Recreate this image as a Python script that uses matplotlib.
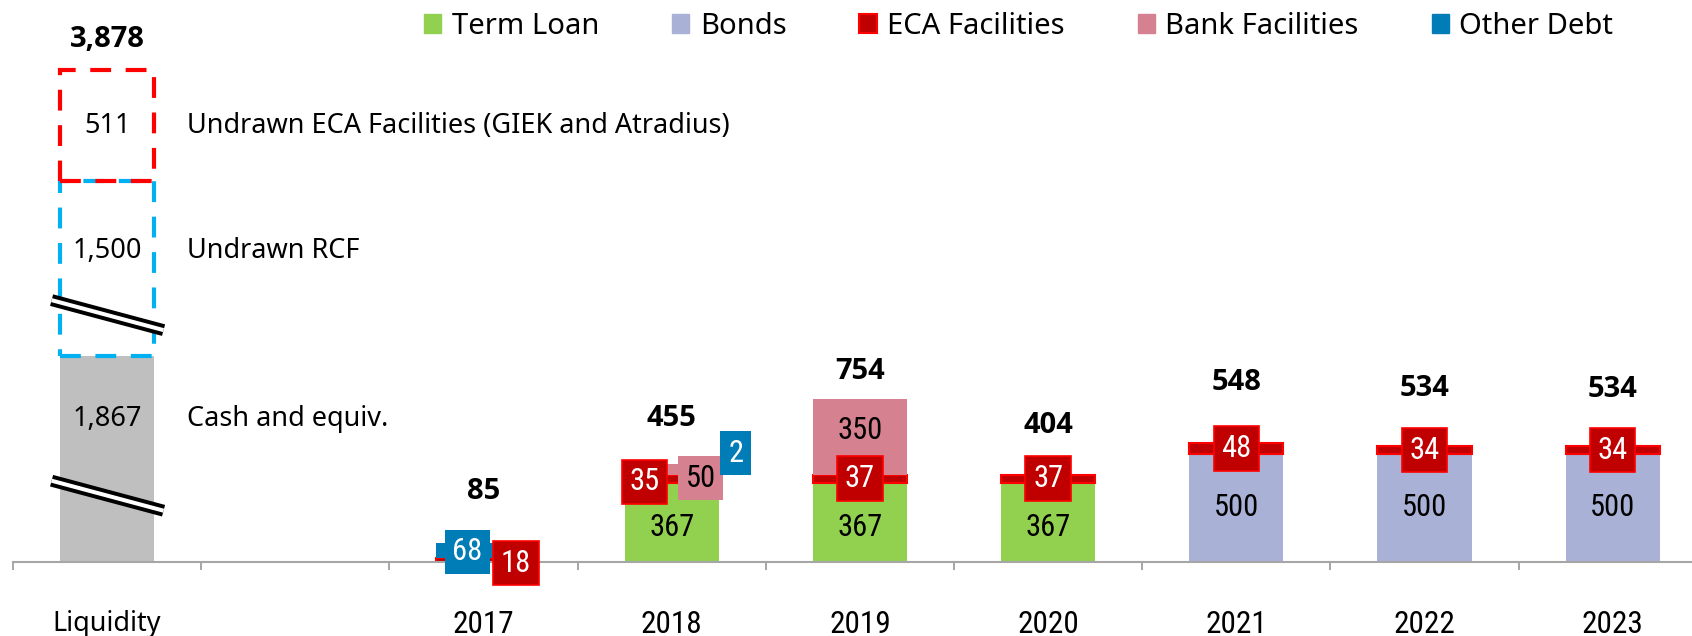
import matplotlib
matplotlib.use("Agg")
import matplotlib.pyplot as plt
from matplotlib.patches import Patch
from matplotlib import font_manager
import numpy as np

# ---------------- data ----------------
categories = ["Liquidity", "", "2017", "2018", "2019", "2020", "2021", "2022", "2023"]
years = ["2017", "2018", "2019", "2020", "2021", "2022", "2023"]
term_loan = [0, 367, 367, 367, 0, 0, 0]
bonds = [0, 0, 0, 0, 500, 500, 500]
eca_facilities = [18, 35, 37, 37, 48, 34, 34]
bank_facilities = [0, 50, 350, 0, 0, 0, 0]
other_debt = [68, 2, 0, 0, 0, 0, 0]
year_totals = [85, 455, 754, 404, 548, 534, 534]

liquidity_names = ["Cash and equiv.", "Undrawn RCF",
                   "Undrawn ECA Facilities (GIEK and Atradius)"]
liquidity_values = [1867, 1500, 511]
liquidity_break_cut = [916, 691, 0]      # amount hidden by the axis breaks
liquidity_total = 3878

# ---------------- style ----------------
C_TERM = "#92D050"
C_BONDS = "#A9B2D6"
C_ECA = "#C00000"
C_ECA_EDGE = "#FF0000"
C_BANK = "#D5818F"
C_OTHER = "#007DB6"
C_CASH = "#BFBFBF"
C_RCF = "#00B0F0"
C_AXIS = "#A6A6A6"

flist = font_manager.fontManager.ttflist
avail = {f.name for f in flist}
def pick(*names):
    return [n for n in names if n in avail] + ["DejaVu Sans"]
def has_bold(name):
    for f in flist:
        if f.name == name and f.style == "normal":
            w = f.weight
            if isinstance(w, str):
                if w in ("bold", "heavy", "extra bold", "black", "semibold", "demibold"):
                    return True
            elif w >= 600:
                return True
    return False
NARROW = pick("Liberation Sans Narrow", "Roboto Condensed", "Roboto")
MAIN = pick("Noto Sans", "Open Sans")
BOLD = [n for n in ("Noto Sans", "Open Sans", "Lato", "Roboto") if n in avail and has_bold(n)] + ["DejaVu Sans"]

W, H, DPI = 1692, 636, 100
PX = 72.0 / DPI   # points per pixel

fig = plt.figure(figsize=(W / DPI, H / DPI), dpi=DPI)
left_px, base_px, cat_px, unit_px = 13, 562, 188.2, 0.2165
ax = fig.add_axes([left_px / W, (H - base_px) / H, 1 - left_px / W, base_px / H])
for s in ["left", "right", "top"]:
    ax.spines[s].set_visible(False)
ax.spines["bottom"].set_color(C_AXIS)
ax.spines["bottom"].set_linewidth(1.5)
ax.set_yticks([])
ax.patch.set_alpha(0)

BW = 0.5
xs = np.arange(2, 2 + len(years))

series = [
    ("Term Loan", term_loan, C_TERM, None, "black"),
    ("Bonds", bonds, C_BONDS, None, "black"),
    ("ECA Facilities", eca_facilities, C_ECA, C_ECA_EDGE, "white"),
    ("Bank Facilities", bank_facilities, C_BANK, None, "black"),
    ("Other Debt", other_debt, C_OTHER, None, "white"),
]

# label offsets in pixels (dx right, dy up) to avoid overlaps
label_shift = {
    ("ECA Facilities", "2017"): (32.5, -3),
    ("Other Debt", "2017"): (-16, -1),
    ("ECA Facilities", "2018"): (-27, -3),
    ("Bank Facilities", "2018"): (29, -8.5),
    ("Other Debt", "2018"): (64, 10.7),
}
plain_shift = {"Term Loan": -5, "Bonds": 0, "Bank Facilities": 6}

bottom = np.zeros(len(years))
for name, vals, fc, ec, tc in series:
    vals = np.array(vals, dtype=float)
    mask = vals > 0
    ax.bar(xs[mask], vals[mask], BW, bottom=bottom[mask], color=fc,
           edgecolor=ec if ec else fc, linewidth=1.5 if ec else 0, zorder=2)
    for x, v, b, yr in zip(xs, vals, bottom, years):
        if v <= 0:
            continue
        yc = b + v / 2
        boxed = v < 190
        if boxed:
            dx, dy = label_shift.get((name, yr), (0, 0))
            ax.annotate(f"{int(v)}", xy=(x, yc), xytext=(dx * PX, dy * PX),
                        textcoords="offset points", ha="center", va="center",
                        color=tc, fontsize=22, family=NARROW, zorder=5,
                        bbox=dict(boxstyle="square,pad=0.25", fc=fc,
                                  ec=ec if ec else fc, lw=1.2 if ec else 0))
        else:
            ax.annotate(f"{int(v)}", xy=(x, yc),
                        xytext=(0, plain_shift.get(name, 0) * PX),
                        textcoords="offset points", ha="center", va="center",
                        color="black", fontsize=22, family=NARROW, zorder=4)
    bottom = bottom + vals

# totals above the year bars (offsets in px)
total_offset = [51.6, 45.5, 27, 49.5, 61, 58, 57]
for x, tot, top, off in zip(xs, year_totals, bottom, total_offset):
    ax.annotate(f"{tot:,}", xy=(x, top), xytext=(0, off * PX),
                textcoords="offset points", ha="center", va="center",
                fontsize=21, fontweight="bold", family=BOLD, color="black")

# ---------------- liquidity bar (with axis breaks) ----------------
disp = [v - c for v, c in zip(liquidity_values, liquidity_break_cut)]
bots = [0, disp[0], disp[0] + disp[1]]
dash = (0, (5, 3.5))
ax.bar(0, disp[0], BW, bottom=bots[0], color=C_CASH, linewidth=0, zorder=2)
ax.bar(0, disp[1], BW, bottom=bots[1], fill=False, edgecolor=C_RCF,
       linewidth=3, linestyle=dash, zorder=3)
ax.bar(0, disp[2], BW, bottom=bots[2], fill=False, edgecolor=C_ECA_EDGE,
       linewidth=3, linestyle=dash, zorder=3)

break_frac = [0.322, 0.234]
half_drop = 15 / unit_px          # half of the 30 px drop of a break
band_half = 6 / unit_px
label_y = []
for i in range(3):
    if i < 2:
        yc = bots[i] + break_frac[i] * disp[i]
        bx = [-0.295, 0.30]
        by = [yc + half_drop, yc - half_drop]
        ax.plot(bx, by, color="black", lw=8.6, solid_capstyle="butt", zorder=6)
        ax.plot(bx, by, color="white", lw=2.9, solid_capstyle="butt", zorder=7)
        label_y.append((yc + band_half + bots[i] + disp[i]) / 2)
    else:
        label_y.append(bots[i] + disp[i] / 2)
label_nudge_px = [4, -6, 0]

side_x = -0.5 + (187 - left_px) / cat_px
for i, (nm, v) in enumerate(zip(liquidity_names, liquidity_values)):
    y = label_y[i] + label_nudge_px[i] / unit_px
    ax.text(0, y, f"{v:,}", ha="center", va="center", fontsize=19.5,
            family=MAIN, color="black", zorder=8)
    ax.text(side_x, y, nm, ha="left", va="center", fontsize=19.5,
            family=MAIN, color="black", zorder=8)

ax.annotate(f"{liquidity_total:,}", xy=(0, bots[2] + disp[2]),
            xytext=(0, 31 * PX), textcoords="offset points",
            ha="center", va="center", fontsize=21, fontweight="bold",
            family=BOLD, color="black")

# ---------------- x axis ----------------
ax.set_xticks(np.arange(len(categories)))
ax.set_xticklabels(categories)
ax.tick_params(axis="x", which="major", length=0, pad=48 * PX)
ax.set_xticks(np.arange(len(categories)) - 0.5, minor=True)
ax.tick_params(axis="x", which="minor", length=8 * PX, width=1.4,
               color=C_AXIS, direction="out")
for lab in ax.get_xticklabels():
    if lab.get_text() == "Liquidity":
        lab.set_family(MAIN)
        lab.set_fontsize(19.5)
    else:
        lab.set_family(NARROW)
        lab.set_fontsize(22.5)
ax.set_xlim(-0.5, -0.5 + (W - left_px) / cat_px)
ax.set_ylim(0, base_px / unit_px)

# ---------------- legend ----------------
handles = [
    Patch(facecolor=C_TERM, edgecolor=C_TERM, label="Term Loan"),
    Patch(facecolor=C_BONDS, edgecolor=C_BONDS, label="Bonds"),
    Patch(facecolor=C_ECA, edgecolor=C_ECA_EDGE, linewidth=1.5, label="ECA Facilities"),
    Patch(facecolor=C_BANK, edgecolor=C_BANK, label="Bank Facilities"),
    Patch(facecolor=C_OTHER, edgecolor=C_OTHER, label="Other Debt"),
]
fig.legend(handles=handles, loc="center", bbox_to_anchor=(0.602, 0.959),
           ncol=5, frameon=False, prop={"family": MAIN, "size": 21},
           handlelength=0.6, handleheight=0.6, handletextpad=0.35,
           columnspacing=2.5, borderaxespad=0, borderpad=0)

fig.savefig("out.png", dpi=DPI)
